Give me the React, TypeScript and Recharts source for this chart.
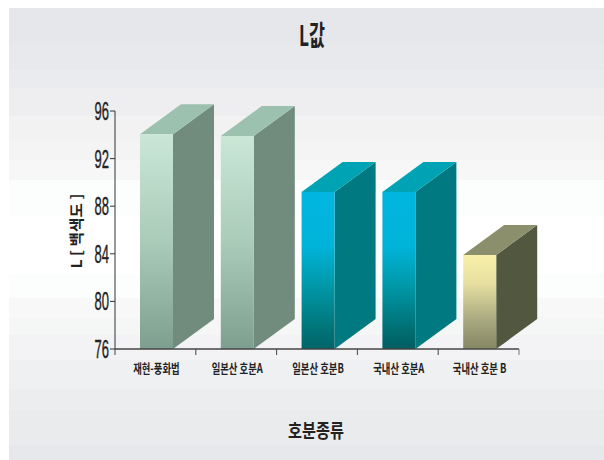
import { Bar, BarChart, XAxis, YAxis } from "recharts";

const categories = ["재현-풍화법", "일본산 호분A", "일본산 호분B", "국내산 호분A", "국내산 호분 B"];
const lValues = [94.05, 93.9, 89.2, 89.2, 83.9];
const yTicks = [76, 80, 84, 88, 92, 96];

const width = 604;
const height = 460;
const plotLeft = 115;
const plotRight = 519;
const plotTop = 111;
const plotBottom = 349;
const bandWidth = (plotRight - plotLeft) / categories.length;
const depthX = 41;
const depthY = 30;

const krFont = "'Noto Sans CJK KR', sans-serif";
const numFont = "'Liberation Sans', Arial, sans-serif";

// face colours for each bar: [front stops], top, side
const faces = [
  {
    front: [[0, "#cae7d6"], [0.5, "#aacbb8"], [1, "#7e9f8f"]],
    top: "#9cc1ae",
    side: "#718c7c",
  },
  {
    front: [[0, "#cae7d6"], [0.5, "#aacbb8"], [1, "#7e9f8f"]],
    top: "#9cc1ae",
    side: "#718c7c",
  },
  {
    front: [[0, "#00b5e0"], [0.35, "#00b3d8"], [0.6, "#0098a8"], [0.85, "#00777c"], [1, "#006468"]],
    top: "#00a3b3",
    side: "#007a80",
  },
  {
    front: [[0, "#00b5e0"], [0.35, "#00b3d8"], [0.6, "#0098a8"], [0.85, "#007378"], [1, "#005d60"]],
    top: "#00a3b3",
    side: "#007a80",
  },
  {
    front: [[0, "#f8f0a9"], [0.3, "#e6dfa0"], [0.7, "#a8a880"], [1, "#858763"]],
    top: "#8c8f6c",
    side: "#525840",
  },
];

// the page backdrop is made of flat horizontal bands
const bands: [number, string][] = [
  [44, "#e6e7eb"],
  [70, "#e8e9ec"],
  [88, "#eaebee"],
  [116, "#eeeef0"],
  [140, "#f2f2f3"],
  [160, "#f4f4f5"],
  [180, "#f7f7f8"],
  [216, "#fcfdfd"],
  [274, "#ffffff"],
  [298, "#fcfdfd"],
  [318, "#f8f8f8"],
  [335, "#f5f6f6"],
  [360, "#f3f3f5"],
  [390, "#eff0f2"],
  [410, "#ecedef"],
  [445, "#eaebed"],
  [460, "#e7e8ec"],
];

function Bar3D(props: any) {
  const { x, y, width: w, height: h, index } = props;
  const left = x + 1;
  const right = left + w;
  const bottom = y + h;
  const face = faces[index];
  return (
    <g>
      <polygon
        points={`${right},${y} ${right + depthX},${y - depthY} ${right + depthX},${bottom - depthY} ${right},${bottom}`}
        fill={face.side}
      />
      <polygon
        points={`${left},${y} ${left + depthX},${y - depthY} ${right + depthX},${y - depthY} ${right},${y}`}
        fill={face.top}
      />
      <rect x={left} y={y} width={w} height={h} fill={`url(#front${index})`} />
    </g>
  );
}

function YTick(props: any) {
  const { y, payload } = props;
  return (
    <g>
      <line x1={plotLeft - 5} x2={plotLeft} y1={y} y2={y} stroke="#333" />
      <text
        transform={`translate(${plotLeft - 6},${y + 9}) scale(0.52,1)`}
        textAnchor="end"
        fontFamily={numFont}
        fontSize={25}
        stroke="#222"
        strokeWidth={0.4}
        fill="#222"
      >
        {payload.value}
      </text>
    </g>
  );
}

function XTick(props: any) {
  const { x, payload, index } = props;
  const last = index === categories.length - 1;
  return (
    <g>
      <line x1={x - bandWidth / 2} x2={x - bandWidth / 2} y1={plotBottom} y2={plotBottom + 6} stroke="#444" />
      {last && (
        <line x1={x + bandWidth / 2} x2={x + bandWidth / 2} y1={plotBottom} y2={plotBottom + 6} stroke="#777" />
      )}
      <text
        transform={`translate(${x + 1},${plotBottom + 24}) scale(0.72,1)`}
        textAnchor="middle"
        fontFamily={krFont}
        fontWeight={700}
        fontSize={13}
        fill="#222"
      >
        {payload.value}
      </text>
    </g>
  );
}

export default function App() {
  const data = categories.map((name, i) => ({ name, value: lValues[i] }));
  return (
    <div style={{ position: "fixed", left: 0, top: 0, width, height, background: "#fff", overflow: "hidden" }}>
      {bands.map(([end, color], i) => {
        const start = i === 0 ? 8 : bands[i - 1][0];
        return (
          <div
            key={end}
            style={{ position: "absolute", left: 9, right: 0, top: start, height: end - start, background: color }}
          />
        );
      })}
      <BarChart
        width={width}
        height={height}
        data={data}
        barSize={33}
        margin={{ top: plotTop, right: width - plotRight, bottom: 80, left: 0 }}
        style={{ position: "absolute", left: 0, top: 0 }}
      >
        <defs>
          {faces.map((face, i) => (
            <linearGradient key={i} id={`front${i}`} x1="0" y1="0" x2="0" y2="1">
              {face.front.map(([offset, color]) => (
                <stop key={offset} offset={offset} stopColor={color as string} />
              ))}
            </linearGradient>
          ))}
        </defs>
        <XAxis
          dataKey="name"
          height={31}
          interval={0}
          tickLine={false}
          axisLine={{ stroke: "#444", strokeWidth: 1.5 }}
          tick={<XTick />}
        />
        <YAxis
          width={plotLeft}
          domain={[76, 96]}
          ticks={yTicks}
          interval={0}
          tickLine={false}
          axisLine={{ stroke: "#333" }}
          tick={<YTick />}
        />
        <Bar dataKey="value" isAnimationActive={false} shape={<Bar3D />} />
        <text
          transform="translate(312,46) scale(0.62,1)"
          textAnchor="middle"
          fontFamily={krFont}
          fontWeight={700}
          fontSize={28}
          fill="#222"
        >
          L값
        </text>
        <text
          transform="translate(316,438) scale(0.8,1)"
          textAnchor="middle"
          fontFamily={krFont}
          fontWeight={700}
          fontSize={19}
          fill="#222"
        >
          호분종류
        </text>
        <text
          transform="translate(82,231) rotate(-90) scale(1.05,1)"
          textAnchor="middle"
          fontFamily={krFont}
          fontWeight={700}
          fontSize={15}
          fill="#222"
        >
          L [ 백색도 ]
        </text>
      </BarChart>
    </div>
  );
}
